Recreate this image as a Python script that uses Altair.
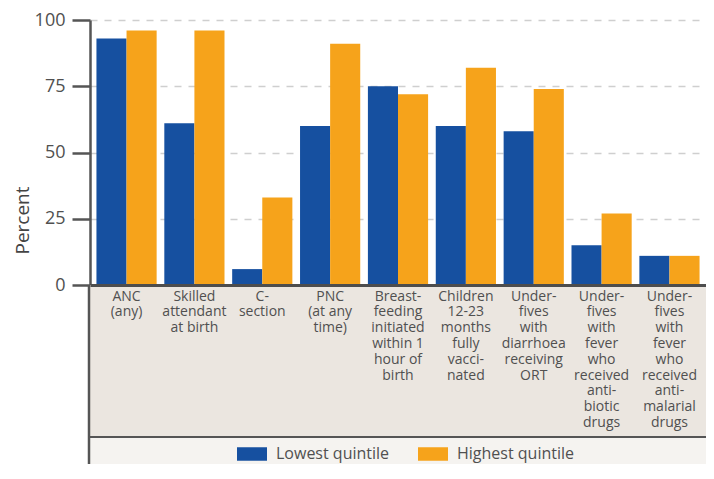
import altair as alt
import pandas as pd

categories = [
    "ANC|(any)",
    "Skilled|attendant|at birth",
    "C-|section",
    "PNC|(at any|time)",
    "Breast-|feeding|initiated|within 1|hour of|birth",
    "Children|12-23|months|fully|vacci-|nated",
    "Under-|fives|with|diarrhoea|receiving|ORT",
    "Under-|fives|with|fever|who|received|anti-|biotic|drugs",
    "Under-|fives|with|fever|who|received|anti-|malarial|drugs",
]
lowest = [93, 61, 6, 60, 75, 60, 58, 15, 11]
highest = [96, 96, 33, 91, 72, 82, 74, 27, 11]
series = ["Lowest quintile", "Highest quintile"]
colors = ["#1650a0", "#f6a31b"]
y_ticks = [0, 25, 50, 75, 100]

rows = []
for c, lo, hi in zip(categories, lowest, highest):
    rows.append({"cat": c, "series": series[0], "value": lo})
    rows.append({"cat": c, "series": series[1], "value": hi})
df = pd.DataFrame(rows)

W, H = 616, 265
PAD_TOP, PAD_LEFT, PAD_BOTTOM = 12, 82, 179
BOX_BOTTOM = 417
FULL_BOTTOM = H + PAD_BOTTOM
FONT = "Open Sans"
TXT = "#505050"

deco_df = pd.DataFrame({"a": [0]})
base = alt.Chart(deco_df)
label_box = base.mark_rect(color="#ebe6e0").encode(
    x=alt.value(0), x2=alt.value(W), y=alt.value(H), y2=alt.value(BOX_BOTTOM)
)
legend_box = base.mark_rect(color="#f5f3f0").encode(
    x=alt.value(0), x2=alt.value(W), y=alt.value(BOX_BOTTOM), y2=alt.value(FULL_BOTTOM)
)
box_line = base.mark_rule(color="#555555", strokeWidth=2).encode(
    x=alt.value(0), x2=alt.value(W), y=alt.value(BOX_BOTTOM)
)
left_line = base.mark_rule(color="#555555", strokeWidth=2.5).encode(
    x=alt.value(-1), y=alt.value(H), y2=alt.value(FULL_BOTTOM)
)

bars = alt.Chart(df).mark_bar().encode(
    x=alt.X(
        "cat:N",
        sort=categories,
        scale=alt.Scale(paddingInner=0.113, paddingOuter=0.095),
        axis=alt.Axis(
            title=None,
            labelExpr="split(datum.label, '|')",
            labelAngle=0,
            labelFont=FONT,
            labelFontSize=14,
            labelLineHeight=15.8,
            labelColor=TXT,
            labelBaseline="top",
            labelPadding=4,
            labelLimit=0,
            ticks=False,
            domainColor="#4d4d4d",
            domainWidth=3,
            zindex=1,
        ),
    ),
    xOffset=alt.XOffset("series:N", sort=series, scale=alt.Scale(paddingInner=0, paddingOuter=0)),
    y=alt.Y(
        "value:Q",
        scale=alt.Scale(domain=[0, 100]),
        axis=alt.Axis(
            values=y_ticks,
            title="Percent",
            titleFont=FONT,
            titleFontSize=19,
            titleFontWeight="normal",
            titleColor="#444444",
            titleAngle=-90,
            titleBaseline="alphabetic",
            titleAlign="center",
            titleX=-62,
            titleY=200,
            labelFont=FONT,
            labelFontSize=18,
            labelColor=TXT,
            labelPadding=7,
            tickSize=18,
            tickColor="#555555",
            tickWidth=2.5,
            domainColor="#555555",
            domainWidth=2.5,
            grid=True,
            gridColor="#cfcfcf",
            gridDash=[7, 7],
            gridWidth=1.5,
        ),
    ),
    color=alt.Color(
        "series:N",
        sort=series,
        scale=alt.Scale(domain=series, range=colors),
        legend=alt.Legend(
            title=None,
            orient="none",
            direction="horizontal",
            legendX=147,
            legendY=419,
            symbolType="M-1,-0.45H1V0.45H-1Z",
            symbolSize=900,
            symbolStrokeWidth=0,
            symbolOpacity=1,
            labelFont=FONT,
            labelFontSize=16,
            labelColor=TXT,
            labelOffset=9,
            columnPadding=28,
            padding=0,
        ),
    ),
)

chart = (
    alt.layer(label_box, legend_box, box_line, left_line, bars)
    .properties(
        width=W,
        height=H,
        autosize=alt.AutoSizeParams(type="none"),
        padding={"left": PAD_LEFT, "top": PAD_TOP, "right": 0, "bottom": PAD_BOTTOM},
        background="white",
    )
    .configure_view(stroke=None)
)

chart.save("out.html", embed_options={"renderer": "svg", "actions": False})
